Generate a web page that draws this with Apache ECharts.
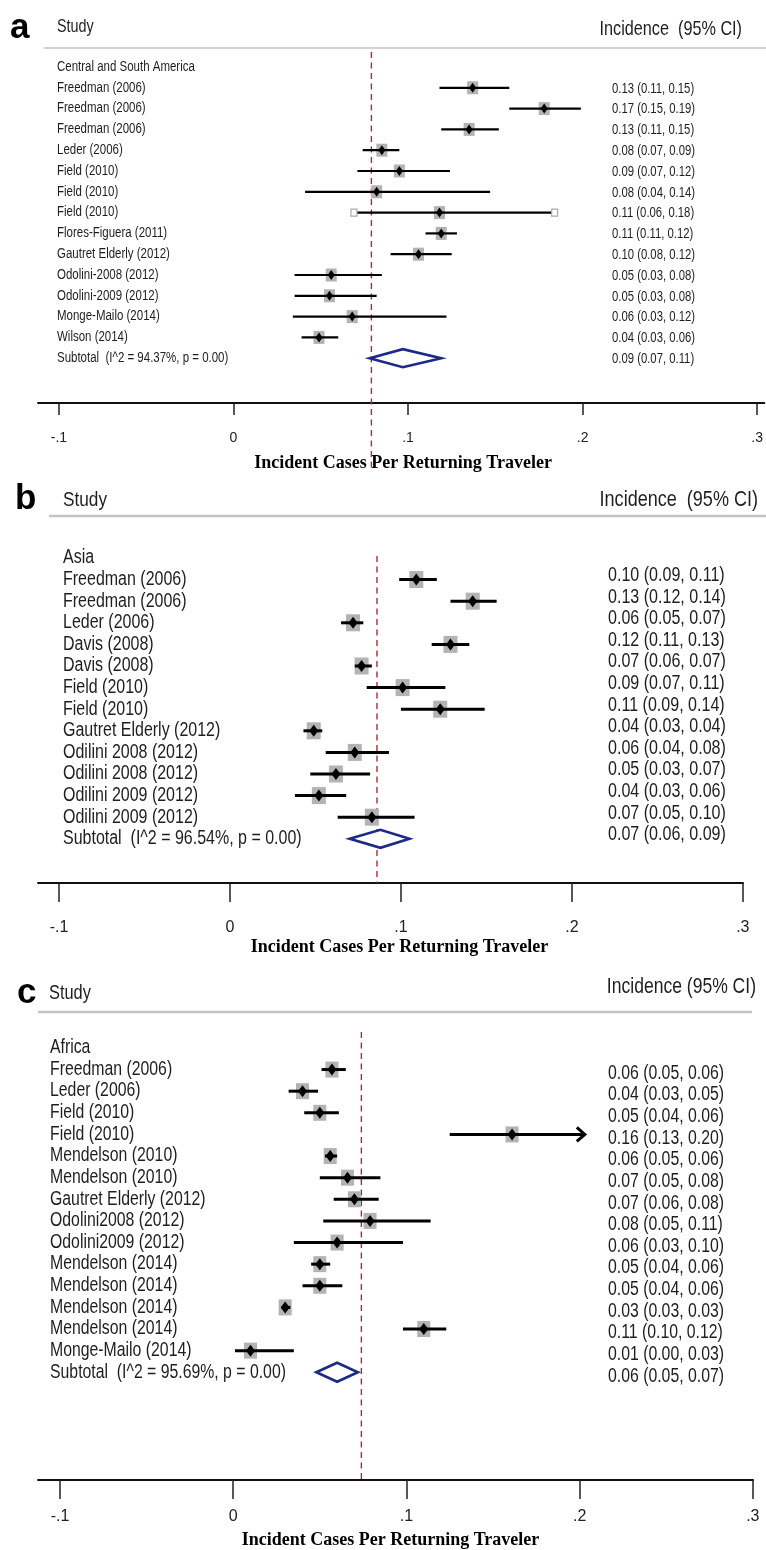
<!DOCTYPE html>
<html><head><meta charset="utf-8">
<script src="https://cdn.jsdelivr.net/npm/echarts@6/dist/echarts.min.js"></script>
<style>html,body{margin:0;padding:0;background:#fff}#c{width:766px;height:1550px}</style>
</head><body><div id="c"></div>
<script>
// ---------- DATA ----------
const tickValues = [-0.1, 0, 0.1, 0.2, 0.3];
const tickLabels = ['-.1', '0', '.1', '.2', '.3'];
const axisTitle = 'Incident Cases Per Returning Traveler';

// Panel a
const regionA = 'Central and South America';
const studiesA = ['Freedman (2006)','Freedman (2006)','Freedman (2006)','Leder (2006)','Field (2010)','Field (2010)','Field (2010)','Flores-Figuera (2011)','Gautret Elderly (2012)','Odolini-2008 (2012)','Odolini-2009 (2012)','Monge-Mailo (2014)','Wilson (2014)'];
const estA  = [0.137,0.178,0.135,0.085,0.095,0.082,0.118,0.119,0.106,0.056,0.055,0.068,0.049];
const lowA  = [0.118,0.158,0.119,0.074,0.071,0.041,0.069,0.110,0.090,0.035,0.035,0.034,0.039];
const highA = [0.158,0.199,0.152,0.095,0.124,0.147,0.184,0.128,0.125,0.085,0.082,0.122,0.060];
const textA = ['0.13 (0.11, 0.15)','0.17 (0.15, 0.19)','0.13 (0.11, 0.15)','0.08 (0.07, 0.09)','0.09 (0.07, 0.12)','0.08 (0.04, 0.14)','0.11 (0.06, 0.18)','0.11 (0.11, 0.12)','0.10 (0.08, 0.12)','0.05 (0.03, 0.08)','0.05 (0.03, 0.08)','0.06 (0.03, 0.12)','0.04 (0.03, 0.06)'];
const openEndsA = [6];
const subLabelA = 'Subtotal  (I^2 = 94.37%, p = 0.00)';
const subA = [0.097, 0.078, 0.119];
const subTextA = '0.09 (0.07, 0.11)';
const overallA = 0.079;

// Panel b
const regionB = 'Asia';
const studiesB = ['Freedman (2006)','Freedman (2006)','Leder (2006)','Davis (2008)','Davis (2008)','Field (2010)','Field (2010)','Gautret Elderly (2012)','Odilini 2008 (2012)','Odilini 2008 (2012)','Odilini 2009 (2012)','Odilini 2009 (2012)'];
const estB  = [0.109,0.142,0.072,0.129,0.077,0.101,0.123,0.049,0.073,0.062,0.052,0.083];
const lowB  = [0.099,0.129,0.065,0.118,0.073,0.080,0.100,0.043,0.056,0.047,0.038,0.063];
const highB = [0.121,0.156,0.078,0.140,0.083,0.126,0.149,0.054,0.093,0.082,0.068,0.108];
const textB = ['0.10 (0.09, 0.11)','0.13 (0.12, 0.14)','0.06 (0.05, 0.07)','0.12 (0.11, 0.13)','0.07 (0.06, 0.07)','0.09 (0.07, 0.11)','0.11 (0.09, 0.14)','0.04 (0.03, 0.04)','0.06 (0.04, 0.08)','0.05 (0.03, 0.07)','0.04 (0.03, 0.06)','0.07 (0.05, 0.10)'];
const subLabelB = 'Subtotal  (I^2 = 96.54%, p = 0.00)';
const subB = [0.088, 0.070, 0.105];
const subTextB = '0.07 (0.06, 0.09)';
const overallB = 0.086;

// Panel c
const regionC = 'Africa';
const studiesC = ['Freedman (2006)','Leder (2006)','Field (2010)','Field (2010)','Mendelson (2010)','Mendelson (2010)','Gautret Elderly (2012)','Odolini2008 (2012)','Odolini2009 (2012)','Mendelson (2014)','Mendelson (2014)','Mendelson (2014)','Mendelson (2014)','Monge-Mailo (2014)'];
const estC  = [0.057,0.040,0.050,0.161,0.056,0.066,0.070,0.079,0.060,0.050,0.050,0.030,0.110,0.010];
const lowC  = [0.051,0.032,0.041,0.125,0.053,0.050,0.058,0.052,0.035,0.045,0.040,0.028,0.098,0.001];
const highC = [0.065,0.049,0.061,0.203,0.060,0.085,0.084,0.114,0.098,0.056,0.063,0.033,0.123,0.035];
const textC = ['0.06 (0.05, 0.06)','0.04 (0.03, 0.05)','0.05 (0.04, 0.06)','0.16 (0.13, 0.20)','0.06 (0.05, 0.06)','0.07 (0.05, 0.08)','0.07 (0.06, 0.08)','0.08 (0.05, 0.11)','0.06 (0.03, 0.10)','0.05 (0.04, 0.06)','0.05 (0.04, 0.06)','0.03 (0.03, 0.03)','0.11 (0.10, 0.12)','0.01 (0.00, 0.03)'];
const arrowC = [3];
const subLabelC = 'Subtotal  (I^2 = 95.69%, p = 0.00)';
const subC = [0.060, 0.048, 0.072];
const subTextC = '0.06 (0.05, 0.07)';
const overallC = 0.074;

// ---------- LAYOUT ----------
const SANS = "'Liberation Sans','Arial',sans-serif";
const NARROW_SCALE = 0.82;   // Arial Narrow ~ Arial condensed to 82%
const SERIF = "'Liberation Serif','Times New Roman',serif";

const panels = [
  { letter:'a', region:regionA, studies:studiesA, est:estA, low:lowA, high:highA, text:textA,
    openEnds:openEndsA, arrows:[], subLabel:subLabelA, sub:subA, subText:subTextA, overall:overallA,
    axLeft:38, axRight:766, zeroX:234, scale:1750, axisY:403, headLineY:48, headLineX:[44,766], headLineW:1.5,
    row0:67, gap:20.8, gridTop:48, letterXY:[10,28], letterSize:35, studyXY:[57,27], studySize:17.5,
    incXY:[742,30], incText:'Incidence  (95% CI)', incSize:19.8,
    labelX:57, labelSize:14, numX:612, numSize:13.8, numDy:1,
    tickLen:12, tickSize:14, tickMargin:28, nameGap:51, nameSize:18, namePad:[0,0,0,4],
    lw:2.2, box:[11,13], dia:[7,10], subH:9, refTop:52, refBottom:470 },
  { letter:'b', region:regionB, studies:studiesB, est:estB, low:lowB, high:highB, text:textB,
    openEnds:[], arrows:[], subLabel:subLabelB, sub:subB, subText:subTextB, overall:overallB,
    axLeft:38, axRight:743, zeroX:230, scale:1710, axisY:883, headLineY:516, headLineX:[49,766], headLineW:2.5,
    row0:558, gap:21.6, gridTop:516, letterXY:[15,499], letterSize:35, studyXY:[63,500], studySize:21,
    incXY:[758,500], incText:'Incidence  (95% CI)', incSize:22,
    labelX:63, labelSize:19.5, numX:608, numSize:19.6, numDy:-4,
    tickLen:19, tickSize:16, tickMargin:37, nameGap:55, nameSize:18, namePad:[0,0,0,18],
    lw:3, box:[14,17], dia:[9,12], subH:9, refTop:556, refBottom:883 },
  { letter:'c', region:regionC, studies:studiesC, est:estC, low:lowC, high:highC, text:textC,
    openEnds:[], arrows:arrowC, subLabel:subLabelC, sub:subC, subText:subTextC, overall:overallC,
    axLeft:38, axRight:753, zeroX:233.25, scale:1732.5, axisY:1481, headLineY:1012, headLineX:[38,752], headLineW:2.5,
    row0:1048, gap:21.67, gridTop:1012, letterXY:[17,993], letterSize:35, studyXY:[49,993], studySize:20,
    incXY:[756,987], incText:'Incidence (95% CI)', incSize:21.4,
    labelX:50, labelSize:19.3, numX:608, numSize:19.3, numDy:4,
    tickLen:19, tickSize:16, tickMargin:29, nameGap:51, nameSize:18, namePad:[0,10,0,0],
    lw:3, box:[13,16], dia:[9,12], subH:9.5, refTop:1032, refBottom:1481 }
];

const grids = [], xAxes = [], yAxes = [], series = [], graphics = [];

function tickFmt(v){
  for (let i=0;i<tickValues.length;i++) if (Math.abs(v-tickValues[i])<1e-6) return tickLabels[i];
  return '';
}
function narrowText(x, y, text, size, align){
  return { type:'text', x:x, y:y, scaleX:NARROW_SCALE, scaleY:1,
    style:{text:text, fontFamily:SANS, fontSize:size, fill:'#1e1e1e', align:align||'left', verticalAlign:'middle'} };
}

panels.forEach((p, k) => {
  const top = p.gridTop, height = p.axisY - top;
  grids.push({ left:p.axLeft, top:top, width:p.axRight-p.axLeft, height:height, containLabel:false });
  xAxes.push({
    type:'value', gridIndex:k,
    min:(p.axLeft - p.zeroX)/p.scale, max:(p.axRight - p.zeroX)/p.scale + 1e-4,
    splitLine:{show:false},
    axisLine:{show:true, onZero:false, lineStyle:{color:'#111', width:2}},
    axisTick:{show:true, length:p.tickLen, customValues:tickValues, lineStyle:{color:'#222', width:1.5}},
    axisLabel:{show:true, customValues:tickValues, formatter:tickFmt, margin:p.tickMargin,
      fontFamily:SANS, fontSize:p.tickSize, color:'#222'},
    name:axisTitle, nameLocation:'middle', nameGap:p.nameGap,
    nameTextStyle:{fontFamily:SERIF, fontWeight:'bold', fontSize:p.nameSize, color:'#000', padding:p.namePad}
  });
  const ymin = -(p.row0 - top)/p.gap;
  yAxes.push({ type:'value', gridIndex:k, inverse:true, min:ymin, max:ymin + height/p.gap, show:false });

  const nS = p.studies.length;
  const labels = [p.region].concat(p.studies, [p.subLabel]);
  const nums = [''].concat(p.text, [p.subText]);

  // reference dashed line
  series.push({ type:'custom', xAxisIndex:k, yAxisIndex:k, clip:false, silent:true,
    data:[[p.overall, 0]],
    renderItem:(params, api) => {
      const x = api.coord([api.value(0), 0])[0];
      return { type:'line', shape:{x1:x, y1:p.refTop, x2:x, y2:p.refBottom},
        style:{stroke:'#a2303a', lineWidth:1.4, lineDash:[6,4.5]} };
    }});

  // row labels
  series.push({ type:'custom', xAxisIndex:k, yAxisIndex:k, clip:false, silent:true,
    data:labels.map((t,i)=>[0,i]),
    renderItem:(params, api) => {
      const y = api.coord([0, api.value(1)])[1];
      return narrowText(p.labelX, y, labels[params.dataIndex], p.labelSize, 'left');
    }});
  // numbers
  series.push({ type:'custom', xAxisIndex:k, yAxisIndex:k, clip:false, silent:true,
    data:nums.map((t,i)=>[0,i]),
    renderItem:(params, api) => {
      const y = api.coord([0, api.value(1)])[1] + p.numDy;
      return narrowText(p.numX, y, nums[params.dataIndex], p.numSize, 'left');
    }});

  // CIs
  series.push({ type:'custom', xAxisIndex:k, yAxisIndex:k, clip:false, silent:true,
    data:p.studies.map((s,i)=>[p.est[i], p.low[i], p.high[i], i+1]),
    renderItem:(params, api) => {
      const row = api.value(3);
      const c = api.coord([api.value(0), row]);
      const l = api.coord([api.value(1), row]);
      const h = api.coord([api.value(2), row]);
      const [bw, bh] = p.box, [dw, dh] = p.dia;
      const children = [
        { type:'rect', shape:{x:c[0]-bw/2, y:c[1]-bh/2, width:bw, height:bh}, style:{fill:'#b3b3b3'} },
        { type:'line', shape:{x1:l[0], y1:l[1], x2:h[0], y2:h[1]}, style:{stroke:'#000', lineWidth:p.lw} },
        { type:'polygon', shape:{points:[[c[0]-dw/2,c[1]],[c[0],c[1]-dh/2],[c[0]+dw/2,c[1]],[c[0],c[1]+dh/2]]}, style:{fill:'#000'} }
      ];
      if (p.openEnds.indexOf(params.dataIndex) >= 0) {
        [l, h].forEach(pt => children.push({ type:'rect', shape:{x:pt[0]-3, y:pt[1]-3.5, width:6, height:7},
          style:{fill:'#fff', stroke:'#aaa', lineWidth:1.2} }));
      }
      if (p.arrows.indexOf(params.dataIndex) >= 0) {
        children.push({ type:'polyline', shape:{points:[[h[0]-8,h[1]-7],[h[0],h[1]],[h[0]-8,h[1]+7]]},
          style:{stroke:'#000', lineWidth:3, fill:null} });
      }
      return { type:'group', children };
    }});

  // subtotal diamond
  series.push({ type:'custom', xAxisIndex:k, yAxisIndex:k, clip:false, silent:true,
    data:[[p.sub[0], p.sub[1], p.sub[2], nS+1]],
    renderItem:(params, api) => {
      const row = api.value(3);
      const c = api.coord([api.value(0), row]);
      const l = api.coord([api.value(1), row]);
      const h = api.coord([api.value(2), row]);
      return { type:'polygon', shape:{points:[[l[0],c[1]],[c[0],c[1]-p.subH],[h[0],c[1]],[c[0],c[1]+p.subH]]},
        style:{fill:'#fff', stroke:'#1b2a86', lineWidth:2.6} };
    }});

  // header graphics
  graphics.push(
    { type:'text', x:p.letterXY[0], y:p.letterXY[1], style:{text:p.letter, font:`bold ${p.letterSize}px ${SANS}`, fill:'#000', verticalAlign:'middle'} },
    narrowText(p.studyXY[0], p.studyXY[1], 'Study', p.studySize, 'left'),
    narrowText(p.incXY[0], p.incXY[1], p.incText, p.incSize, 'right'),
    { type:'line', shape:{x1:p.headLineX[0], y1:p.headLineY, x2:p.headLineX[1], y2:p.headLineY}, style:{stroke:'#c4c4c4', lineWidth:p.headLineW} }
  );
});

const chart = echarts.init(document.getElementById('c'), null, {renderer:'canvas'});
chart.setOption({
  animation:false, backgroundColor:'#fff',
  grid:grids, xAxis:xAxes, yAxis:yAxes, series:series, graphic:graphics
});
</script></body></html>
